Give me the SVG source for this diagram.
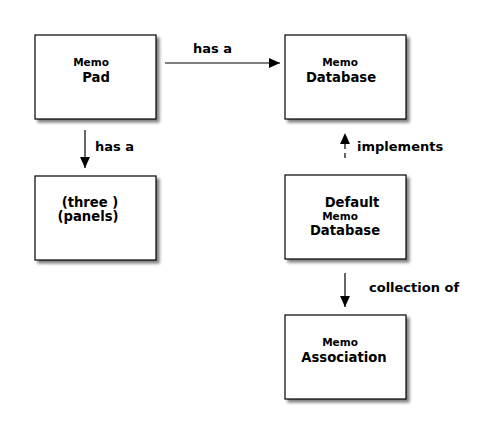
<svg xmlns="http://www.w3.org/2000/svg" width="500" height="434" viewBox="0 0 500 434">
<defs>
<filter id="sh" x="-10%" y="-10%" width="130%" height="130%">
<feGaussianBlur in="SourceAlpha" stdDeviation="1.5"/>
<feOffset dx="3" dy="3" result="b"/>
<feComponentTransfer><feFuncA type="linear" slope="0.5"/></feComponentTransfer>
<feMerge><feMergeNode/><feMergeNode in="SourceGraphic"/></feMerge>
</filter>
<marker id="ah" viewBox="0 0 10 10" refX="10" refY="5" markerWidth="11" markerHeight="11" markerUnits="userSpaceOnUse" orient="auto">
<path d="M0,0.5 L10,5 L0,9.5 Z" fill="#000"/>
</marker>
<style>
.box{fill:#fff;stroke:#000;stroke-width:1.2;filter:url(#sh)}
text{font-family:"DejaVu Sans","Liberation Sans",sans-serif;font-weight:bold;fill:#000;text-anchor:middle}
.s{font-size:10.5px}
.l{font-size:13.2px}
.lab{font-size:13px;text-anchor:start}
.c{stroke:#000;stroke-width:1.2;fill:none;marker-end:url(#ah)}
</style>
</defs>
<rect width="500" height="434" fill="#fff"/>
<g id="memopad">
<rect class="box" x="35" y="35" width="121" height="84"/>
<text class="s" x="91" y="66">Memo</text>
<text class="l" x="96" y="82">Pad</text>
</g>
<g id="memodatabase">
<rect class="box" x="285" y="35" width="121" height="84"/>
<text class="s" x="340" y="66">Memo</text>
<text class="l" x="341" y="82">Database</text>
</g>
<g id="panels">
<rect class="box" x="35" y="176" width="121" height="84"/>
<text class="l" x="90" y="207">(three )</text>
<text class="l" x="88" y="221">(panels)</text>
</g>
<g id="defaultmemodatabase">
<rect class="box" x="285" y="175" width="121" height="84"/>
<text class="l" x="352" y="207">Default</text>
<text class="s" x="340" y="220">Memo</text>
<text class="l" x="345" y="235">Database</text>
</g>
<g id="memoassociation">
<rect class="box" x="285" y="315" width="121" height="84"/>
<text class="s" x="340" y="346">Memo</text>
<text class="l" x="344" y="362">Association</text>
</g>
<g id="connectors">
<line class="c" x1="165" y1="63" x2="280" y2="63"/>
<text class="lab" x="193" y="53">has a</text>
<line class="c" x1="85" y1="130" x2="85" y2="168"/>
<text class="lab" x="95" y="151">has a</text>
<line class="c" x1="345" y1="158" x2="345" y2="133" stroke-dasharray="5,4"/>
<text class="lab" x="357" y="151">implements</text>
<line class="c" x1="345" y1="273" x2="345" y2="307"/>
<text class="lab" x="369" y="292">collection of</text>
</g>
</svg>
